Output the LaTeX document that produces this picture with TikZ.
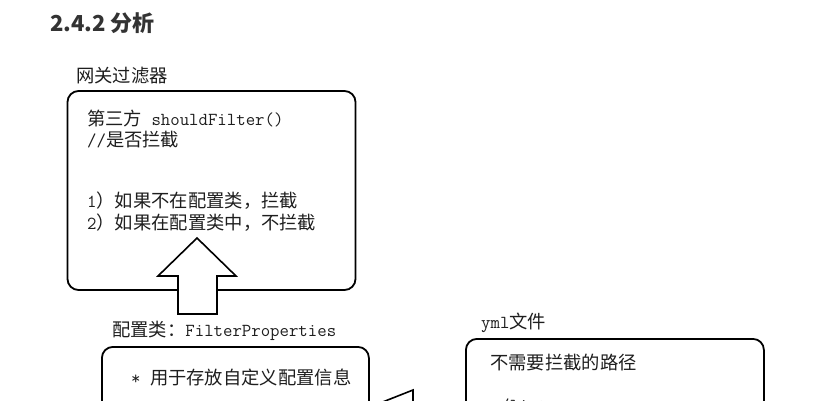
\documentclass[tikz,border=0pt]{standalone}
\usepackage{fontspec}
\newfontfamily\cjk{Noto Sans CJK SC}
\newcommand\Ck[1]{{\cjk #1}}
\definecolor{txt}{HTML}{1E1E1E}
\definecolor{head}{HTML}{333333}
\tikzset{
  x=1pt, y=-1pt,
  lbl/.style={anchor=base west, inner sep=0pt, text=txt, font=\fontsize{18.3}{22}\selectfont\ttfamily},
  boxshape/.style={draw=black, line width=1.8pt, rounded corners=11pt, inner sep=0pt},
  blockarrow/.style={draw=black, line width=1.6pt, fill=white, line join=miter},
}
\begin{document}
\begin{tikzpicture}
\useasboundingbox (0,0) rectangle (826,400);
\clip (0,0) rectangle (826,400);
\fill[white] (0,0) rectangle (826,400);

% heading
\node[anchor=base west, inner sep=0pt, text=head, font=\fontsize{22}{26}\selectfont\cjk\bfseries] (h) at (50,31) {2.4.2 分析};

% gateway filter box
\node[lbl] (l1) at (76,82) {\Ck{网关过滤器}};
\node[boxshape, minimum width=288pt, minimum height=199pt] (b1) at (211.5,190.5) {};
\node[lbl] (t1) at (87,125) {\Ck{第三方} shouldFilter()};
\node[lbl] (t2) at (87,146) {//\Ck{是否拦截}};
\node[lbl] (t3) at (87,207) {1\Ck{）如果不在配置类，拦截}};
\node[lbl] (t4) at (87,229) {2\Ck{）如果在配置类中，不拦截}};

% config class box
\node[lbl] (l2) at (112,336) {\Ck{配置类：}FilterProperties};
\node[boxshape, minimum width=267pt, minimum height=160pt, anchor=north west] (b2) at (101,346) {};
\node[lbl] (t5) at (131,384) {* \Ck{用于存放自定义配置信息}};

% yml box
\node[lbl] (l3) at (481,328) {yml\Ck{文件}};
\node[boxshape, minimum width=298pt, minimum height=160pt, anchor=north west] (b3) at (465,338) {};
\node[lbl] (t6) at (490,369) {\Ck{不需要拦截的路径}};
\node[lbl] (t7) at (500,411) {/list};

% up block arrow (config -> filter)
\coordinate (upbase) at (197,314);
\draw[blockarrow] (178,314) -- (178,276) -- (158,276) -- (197,238) -- (236,276) -- (217,276) -- (217,314) -- cycle;

% left block arrow (yml -> config)
\draw[blockarrow] (465,403) -- (413,403) -- (413,390) -- (375,405) -- (413,420) -- (413,407) -- (465,407);
\end{tikzpicture}
\end{document}
